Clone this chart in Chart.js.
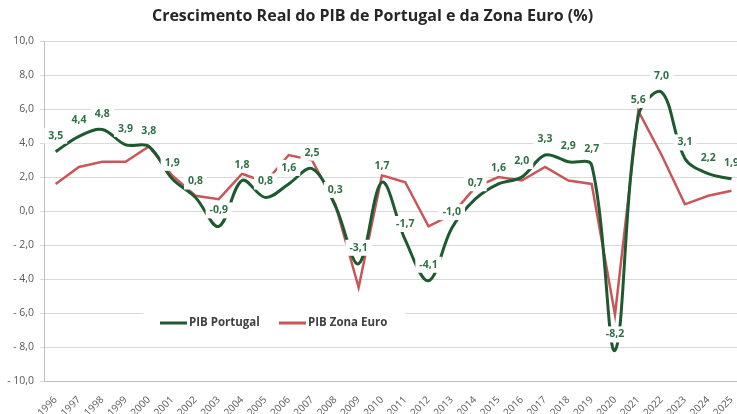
<!DOCTYPE html>
<html>
<head>
<meta charset="utf-8">
<script src="https://cdn.jsdelivr.net/npm/chart.js@4"></script>
<style>
    html, body { margin: 0; padding: 0; background: #fff; overflow: hidden; }
    #wrap { width: 745px; height: 414px; position: relative; }
</style>
</head>
<body>
<div id="wrap"><canvas id="chart"></canvas></div>
<script>
// Data
const years = ['1996', '1997', '1998', '1999', '2000', '2001', '2002', '2003', '2004', '2005',
    '2006', '2007', '2008', '2009', '2010', '2011', '2012', '2013', '2014', '2015',
    '2016', '2017', '2018', '2019', '2020', '2021', '2022', '2023', '2024', '2025'];
const pibPortugal = [3.5, 4.4, 4.8, 3.9, 3.8, 1.9, 0.8, -0.9, 1.8, 0.8,
    1.6, 2.5, 0.3, -3.1, 1.7, -1.7, -4.1, -1.0, 0.7, 1.6,
    2.0, 3.3, 2.9, 2.7, -8.2, 5.6, 7.0, 3.1, 2.2, 1.9];
const pibZonaEuro = [1.6, 2.6, 2.9, 2.9, 3.8, 2.1, 0.9, 0.7, 2.2, 1.7,
    3.3, 3.0, 0.4, -4.5, 2.1, 1.7, -0.9, -0.2, 1.4, 2.0,
    1.8, 2.6, 1.8, 1.6, -6.1, 5.9, 3.3, 0.4, 0.9, 1.2];
const yTicks = [-10, -8, -6, -4, -2, 0, 2, 4, 6, 8, 10];

const GREEN = '#1e5a2f';
const LABEL_GREEN = '#2f7044';
const RED = '#c9575a';
const FONT = '"Open Sans", sans-serif';

function comma(v) {
    return Math.abs(v).toFixed(1).replace('.', ',');
}

// Excel-style data labels with white background + legend box inside plot
const excelBits = {
    id: 'excelBits',
    afterDatasetsDraw(chart) {
        const ctx = chart.ctx;
        const meta = chart.getDatasetMeta(0);
        ctx.save();
        ctx.font = 'bold 10.5px ' + FONT;
        ctx.textAlign = 'center';
        ctx.textBaseline = 'middle';
        meta.data.forEach(function (pt, i) {
            const v = pibPortugal[i];
            const txt = (v < 0 ? '-' : '') + comma(v);
            const w = ctx.measureText(txt).width;
            const y = pt.y - 16;
            ctx.fillStyle = '#fff';
            ctx.fillRect(pt.x - w / 2 - 4, y - 8, w + 8, 16);
            ctx.fillStyle = LABEL_GREEN;
            ctx.fillText(txt, pt.x, y);
        });

        // legend
        ctx.fillStyle = '#fff';
        ctx.fillRect(143, 305, 262, 35);
        ctx.lineWidth = 3;
        ctx.strokeStyle = GREEN;
        ctx.beginPath(); ctx.moveTo(160, 323); ctx.lineTo(187, 323); ctx.stroke();
        ctx.strokeStyle = RED;
        ctx.beginPath(); ctx.moveTo(279, 323); ctx.lineTo(306, 323); ctx.stroke();
        ctx.font = 'bold 11.5px ' + FONT;
        ctx.textAlign = 'left';
        ctx.fillStyle = '#404040';
        ctx.fillText('PIB Portugal', 189, 323);
        ctx.fillText('PIB Zona Euro', 308, 323);
        ctx.restore();
    }
};

new Chart(document.getElementById('chart'), {
    type: 'line',
    data: {
        labels: years,
        datasets: [{
            label: 'PIB Portugal',
            data: pibPortugal,
            borderColor: GREEN,
            borderWidth: 3,
            pointRadius: 0,
            tension: 0.35
        }, {
            label: 'PIB Zona Euro',
            data: pibZonaEuro,
            borderColor: RED,
            borderWidth: 2.5,
            pointRadius: 0,
            tension: 0
        }]
    },
    options: {
        responsive: true,
        maintainAspectRatio: false,
        animation: false,
        layout: { padding: { left: 0, right: 0, top: 0, bottom: 0 } },
        plugins: {
            legend: { display: false },
            tooltip: { enabled: false },
            title: {
                display: true,
                text: 'Crescimento Real do PIB de Portugal e da Zona Euro (%)',
                color: '#262626',
                font: { family: FONT, size: 16, weight: 'bold' },
                padding: { top: 7, bottom: 15 }
            }
        },
        scales: {
            x: {
                offset: true,
                grid: { display: false },
                border: { display: true, color: '#bfbfbf' },
                ticks: {
                    color: '#595959',
                    font: { family: FONT, size: 10 },
                    minRotation: 45,
                    maxRotation: 45,
                    autoSkip: false,
                    padding: 5
                },
                afterFit(scale) { scale.height = 33; }
            },
            y: {
                min: yTicks[0],
                max: yTicks[yTicks.length - 1],
                afterBuildTicks(scale) {
                    scale.ticks = yTicks.map(function (v) { return { value: v }; });
                },
                grid: { color: '#d9d9d9', lineWidth: 1, tickLength: 4 },
                border: { display: true, color: '#bfbfbf' },
                ticks: {
                    color: '#595959',
                    font: { family: FONT, size: 10.5 },
                    padding: 6,
                    callback: function (v) { return (v < 0 ? '- ' : '') + comma(v); }
                },
                afterFit(scale) { scale.width = 44; }
            }
        }
    },
    plugins: [excelBits]
});
</script>
</body>
</html>
